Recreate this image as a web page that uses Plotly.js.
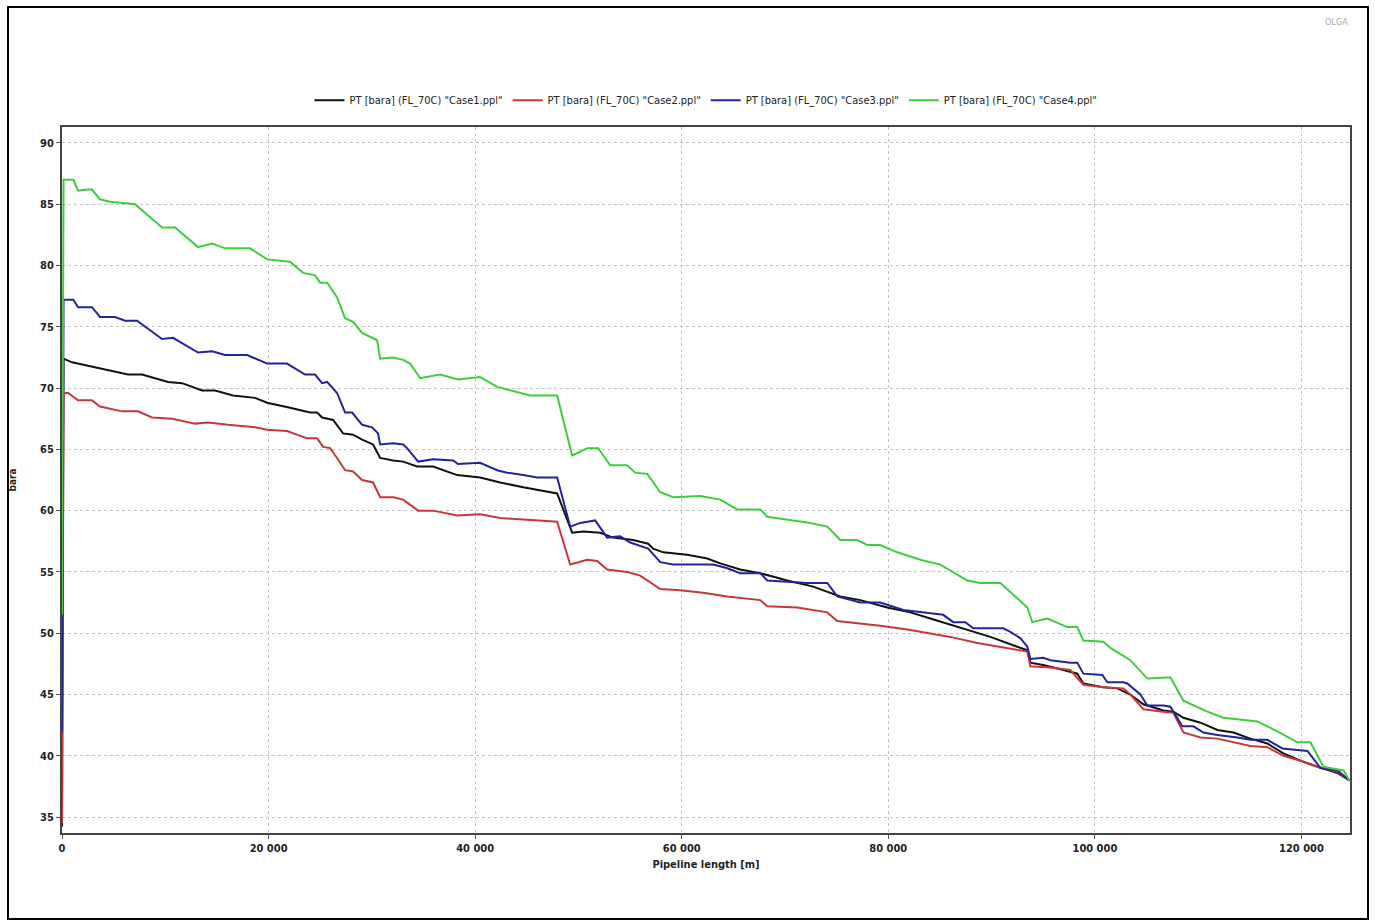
<!DOCTYPE html>
<html>
<head>
<meta charset="utf-8">
<script src="https://cdn.plot.ly/plotly-3.0.1.min.js"></script>
<style>
  html, body { margin: 0; padding: 0; background: #ffffff; }
  #wrap { position: relative; width: 1375px; height: 924px; }
  #chart { position: absolute; left: 0; top: 0; width: 1375px; height: 924px; }
  #frame { position: absolute; left: 7px; top: 6px; width: 1358px; height: 910px; border: 2px solid #000; pointer-events: none; }
</style>
</head>
<body>
<div id="wrap">
  <div id="chart"></div>
  <div id="frame"></div>
</div>
<script>
// Pipeline length [m] and pressure PT [bara] per case
const seriesNames = [
  'PT [bara] (FL_70C) "Case1.ppl"',
  'PT [bara] (FL_70C) "Case2.ppl"',
  'PT [bara] (FL_70C) "Case3.ppl"',
  'PT [bara] (FL_70C) "Case4.ppl"'
];

const case1X = [0,150,970,3200,6390,7750,10270,11620,13560,14820,16560,18690,19860,22080,24020,24700,25180,26250,27210,28180,29060,30120,30800,32060,33030,34380,35930,38260,40480,42420,44650,47940,49390,50460,52110,53360,55300,56750,57240,58210,60530,62470,63730,65660,67600,70220,72730,75350,77290,79900,82130,84070,87260,89880,92490,93460,93750,95010,96950,98300,98880,100820,102180,103430,104700,106630,107600,108570,110220,111860,113410,115060,116700,118250,119900,121550,123480,124640];
const case1Y = [34.2,72.4,72.1,71.7,71.1,71.1,70.5,70.4,69.8,69.8,69.4,69.2,68.8,68.4,68.0,68.0,67.6,67.4,66.3,66.2,65.8,65.4,64.3,64.1,64.0,63.6,63.6,62.9,62.7,62.3,61.9,61.4,58.2,58.3,58.2,57.8,57.6,57.3,56.9,56.6,56.4,56.1,55.7,55.2,54.9,54.3,53.8,53.0,52.7,52.1,51.7,51.2,50.4,49.7,48.9,48.6,47.6,47.4,47.0,46.7,45.9,45.6,45.5,45.0,44.2,43.7,43.6,43.1,42.7,42.1,41.9,41.4,41.0,40.2,39.6,39.1,38.6,38.0];

const case2X = [0,150,600,1550,2900,3680,5810,7360,8720,10650,12880,14140,16080,18690,19860,21790,23730,24700,25280,25960,26630,27410,28180,29060,30120,30800,32060,33030,34480,35930,38260,40480,42420,45620,47940,49200,50850,51810,52780,54720,55980,57920,59860,62080,64410,67600,68280,71190,74090,75060,77290,79220,81840,84070,86000,88620,90550,92780,93460,93750,95690,97620,98880,100820,102760,103430,104700,106630,107600,108570,110220,111860,115060,116700,118250,119900,121550,123480,124640];
const case2Y = [34.5,69.6,69.6,69.0,69.0,68.5,68.1,68.1,67.6,67.5,67.1,67.2,67.0,66.8,66.6,66.5,65.9,65.9,65.2,65.1,64.3,63.3,63.2,62.5,62.3,61.1,61.1,60.9,60.0,60.0,59.6,59.7,59.4,59.2,59.1,55.6,56.0,55.9,55.2,55.0,54.7,53.6,53.5,53.3,53.0,52.7,52.2,52.1,51.7,51.0,50.8,50.6,50.3,50.0,49.7,49.2,48.9,48.6,48.5,47.3,47.2,47.0,45.8,45.6,45.5,45.0,43.8,43.6,43.5,41.9,41.5,41.4,40.8,40.7,40.0,39.6,39.1,38.7,38.0];

const case3X = [0,150,1100,1550,2900,3680,5130,6100,7260,9690,10750,13170,14530,15790,17920,19860,21790,23530,24500,25180,25670,26630,27410,28090,29060,30020,30600,30800,32060,33030,33410,34480,35930,37870,38350,40480,42130,43100,44650,46000,47940,49200,50170,51620,52780,54040,55010,56750,57920,59180,63050,64410,65660,67600,68280,72150,74090,75060,77290,79220,81450,84070,85320,86290,87450,88230,91140,91810,92780,93460,93750,95010,95690,97620,98300,98880,100240,100720,101210,102760,103140,104400,105080,106630,107310,108470,109540,110510,111860,113800,115060,116700,118160,119610,120580,121840,123480,124640];
const case3Y = [42.0,77.2,77.2,76.6,76.6,75.8,75.8,75.5,75.5,74.0,74.1,72.9,73.0,72.7,72.7,72.0,72.0,71.1,71.1,70.4,70.5,69.6,68.0,68.0,67.0,66.8,66.3,65.4,65.5,65.4,65.1,64.0,64.2,64.1,63.8,63.9,63.3,63.1,62.9,62.7,62.7,58.7,59.0,59.2,57.8,57.9,57.4,56.9,55.8,55.6,55.6,55.3,54.9,54.9,54.3,54.1,54.1,53.0,52.5,52.5,51.9,51.6,51.5,50.9,50.9,50.4,50.4,50.1,49.6,48.9,47.9,48.0,47.8,47.6,47.6,46.7,46.6,46.6,46.0,46.0,45.9,45.0,44.1,44.1,44.0,42.4,42.4,41.9,41.7,41.5,41.3,41.3,40.6,40.5,40.4,39.0,38.8,38.0];

const case4X = [0,150,1100,1550,2500,2900,3680,4650,7070,9690,10940,13170,14530,15790,18210,19860,22080,23340,24500,24990,25670,26630,27410,28180,29060,29830,30510,30800,32060,33030,33700,34670,36610,38350,40480,42130,43390,45330,47940,49390,50850,51910,53070,54720,55500,56660,57920,59180,61790,63730,65370,67600,68280,70800,72440,74090,75350,77000,77960,79220,80870,83100,85030,87650,88910,90850,93460,93940,95400,97330,98300,98880,100820,101500,103430,105080,107310,108570,110890,112440,115730,117670,119610,120870,122130,124070,124640];
const case4Y = [51.5,87.0,87.0,86.1,86.2,86.2,85.4,85.2,85.0,83.1,83.1,81.5,81.8,81.4,81.4,80.5,80.3,79.4,79.2,78.6,78.6,77.4,75.7,75.4,74.5,74.2,73.9,72.4,72.5,72.3,72.0,70.8,71.1,70.7,70.9,70.1,69.8,69.4,69.4,64.5,65.1,65.1,63.7,63.7,63.1,63.0,61.5,61.1,61.2,60.9,60.1,60.1,59.5,59.2,59.0,58.7,57.6,57.6,57.2,57.2,56.6,56.0,55.6,54.3,54.1,54.1,52.1,50.9,51.2,50.5,50.5,49.4,49.3,48.8,47.8,46.3,46.4,44.5,43.6,43.1,42.8,42.0,41.1,41.1,39.1,38.8,38.0];

const xTickVals = [0, 20000, 40000, 60000, 80000, 100000, 120000];
const yTickVals = [35, 40, 45, 50, 55, 60, 65, 70, 75, 80, 85, 90];

const colors = ['#111111', '#c8373a', '#23239c', '#3fcd3f'];
const xs = [case1X, case2X, case3X, case4X];
const ys = [case1Y, case2Y, case3Y, case4Y];

const FONT = '"DejaVu Sans Condensed", "Liberation Sans Narrow", "DejaVu Sans", sans-serif';

const traces = seriesNames.map((n, i) => ({
  type: 'scatter',
  mode: 'lines',
  name: n,
  x: xs[i],
  y: ys[i],
  line: { color: colors[i], width: 2 },
  hoverinfo: 'x+y+name'
}));

const layout = {
  width: 1375,
  height: 924,
  paper_bgcolor: '#ffffff',
  plot_bgcolor: '#ffffff',
  separators: '. ',
  margin: { l: 62, r: 25, t: 127, b: 91, pad: 0 },
  font: { family: FONT, size: 11, color: '#222222' },
  showlegend: true,
  legend: {
    orientation: 'h',
    x: 0.5, xanchor: 'center',
    y: 1.038, yanchor: 'middle',
    font: { family: FONT, size: 11, color: '#222222' },
    itemwidth: 30,
    tracegroupgap: 0,
    bgcolor: 'rgba(0,0,0,0)'
  },
  xaxis: {
    range: [0, 124700],
    tickvals: xTickVals,
    tickformat: ',d',
    ticks: 'outside', ticklen: 4, tickcolor: '#555',
    tickfont: { family: FONT, size: 11, color: '#222', weight: 'bold' },
    showgrid: true, gridcolor: '#c4c4c4', griddash: 'dot', gridwidth: 1,
    zeroline: false,
    showline: true, linecolor: '#444', linewidth: 2, mirror: true,
    title: { text: 'Pipeline length [m]', standoff: 6, font: { family: FONT, size: 11, color: '#222', weight: 'bold' } }
  },
  yaxis: {
    range: [33.7, 91.3],
    tickvals: yTickVals,
    ticks: 'outside', ticklen: 4, tickcolor: '#555',
    tickfont: { family: FONT, size: 11, color: '#222', weight: 'bold' },
    showgrid: true, gridcolor: '#c4c4c4', griddash: 'dot', gridwidth: 1,
    zeroline: false,
    showline: true, linecolor: '#444', linewidth: 2, mirror: true,
    title: { text: 'bara', standoff: 22, font: { family: FONT, size: 10, color: '#222', weight: 'bold' } }
  },
  annotations: [
    { text: 'OLGA', xref: 'paper', yref: 'paper', x: 1.0, y: 1 + (127 - 22) / 706, xanchor: 'right', yanchor: 'middle', showarrow: false, font: { family: FONT, size: 9, color: '#aaaaaa' } }
  ]
};

Plotly.newPlot('chart', traces, layout, { displayModeBar: false, staticPlot: true });
</script>
</body>
</html>
